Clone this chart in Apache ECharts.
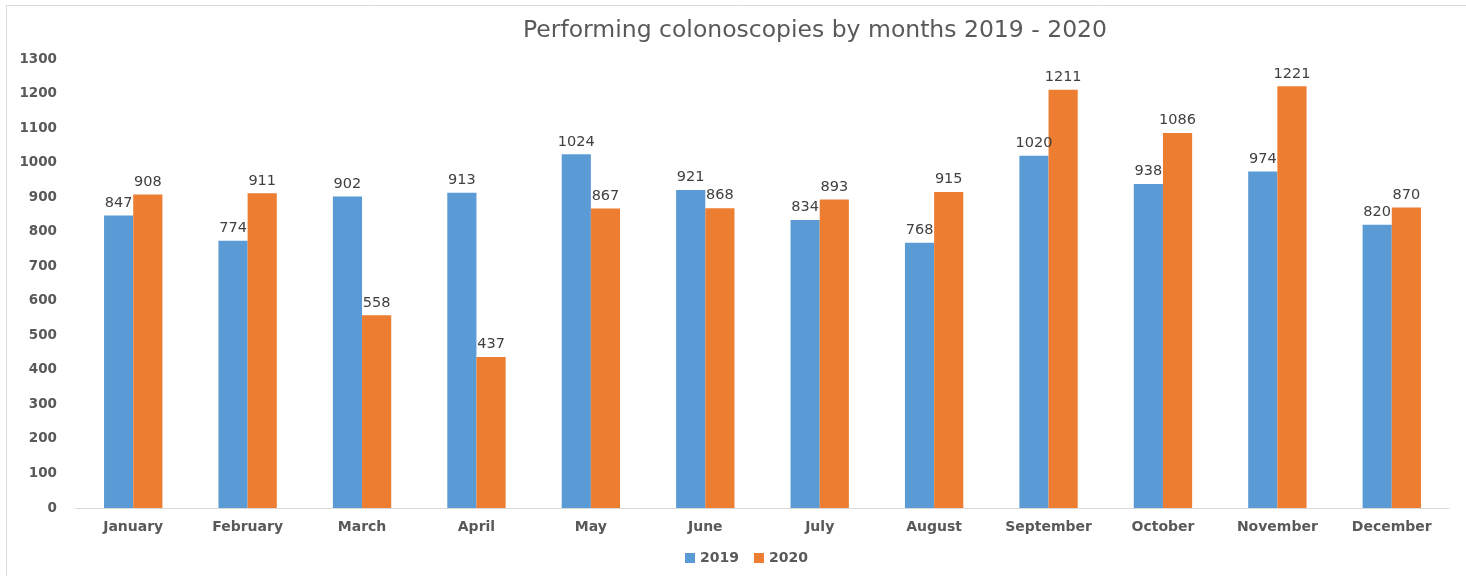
<!DOCTYPE html>
<html>
<head>
<meta charset="utf-8">
<script src="https://cdn.jsdelivr.net/npm/echarts@6/dist/echarts.min.js"></script>
<style>
html,body{margin:0;padding:0;background:#fff;}
#chart{width:1466px;height:576px;}
</style>
</head>
<body>
<div id="chart"></div>
<script>
const categories = ["January","February","March","April","May","June","July","August","September","October","November","December"];
const series2019 = [847, 774, 902, 913, 1024, 921, 834, 768, 1020, 938, 974, 820];
const series2020 = [908, 911, 558, 437, 867, 868, 893, 915, 1211, 1086, 1221, 870];
const yTicks = {min: 0, max: 1300, interval: 100};

const chart = echarts.init(document.getElementById('chart'));
const font = 'DejaVu Sans';
const labelStyle = {
  show: true, position: 'top', distance: 5,
  fontFamily: font, fontSize: 14.5, color: '#404040'
};
chart.setOption({
  animation: false,
  backgroundColor: '#fff',
  graphic: [
    {type: 'line', shape: {x1: 6.5, y1: 5.5, x2: 1466, y2: 5.5},
     style: {stroke: '#d9d9d9', lineWidth: 1}, silent: true, z: -1},
    {type: 'line', shape: {x1: 6.5, y1: 5.5, x2: 6.5, y2: 576},
     style: {stroke: '#d9d9d9', lineWidth: 1}, silent: true, z: -1}
  ],
  title: {
    text: 'Performing colonoscopies by months 2019 - 2020',
    left: 518, top: 14,
    textStyle: {fontFamily: font, fontSize: 23.5, fontWeight: 'normal', color: '#595959'}
  },
  legend: {
    data: ['2019', '2020'],
    left: 680, top: 546,
    icon: 'rect', itemWidth: 10, itemHeight: 10, itemGap: 15,
    textStyle: {fontFamily: font, fontSize: 14, fontWeight: 'bold', color: '#595959'}
  },
  grid: {left: 76, right: 17, top: 59, bottom: 68, containLabel: false},
  xAxis: {
    type: 'category', data: categories,
    axisLine: {lineStyle: {color: '#d9d9d9', width: 1}},
    axisTick: {show: false},
    axisLabel: {fontFamily: font, fontSize: 14, fontWeight: 'bold', color: '#595959', margin: 12, interval: 0}
  },
  yAxis: {
    type: 'value', min: yTicks.min, max: yTicks.max, interval: yTicks.interval,
    axisLine: {show: false}, axisTick: {show: false},
    splitLine: {show: false},
    axisLabel: {fontFamily: font, fontSize: 13.5, fontWeight: 'bold', color: '#595959', margin: 19,
      formatter: v => String(v)}
  },
  series: [
    {name: '2019', type: 'bar', data: series2019, barGap: '0%', barCategoryGap: '49%',
     itemStyle: {color: '#5B9BD5'}, label: labelStyle},
    {name: '2020', type: 'bar', data: series2020, barGap: '0%', barCategoryGap: '49%',
     itemStyle: {color: '#ED7D31'}, label: labelStyle}
  ]
});
</script>
</body>
</html>
